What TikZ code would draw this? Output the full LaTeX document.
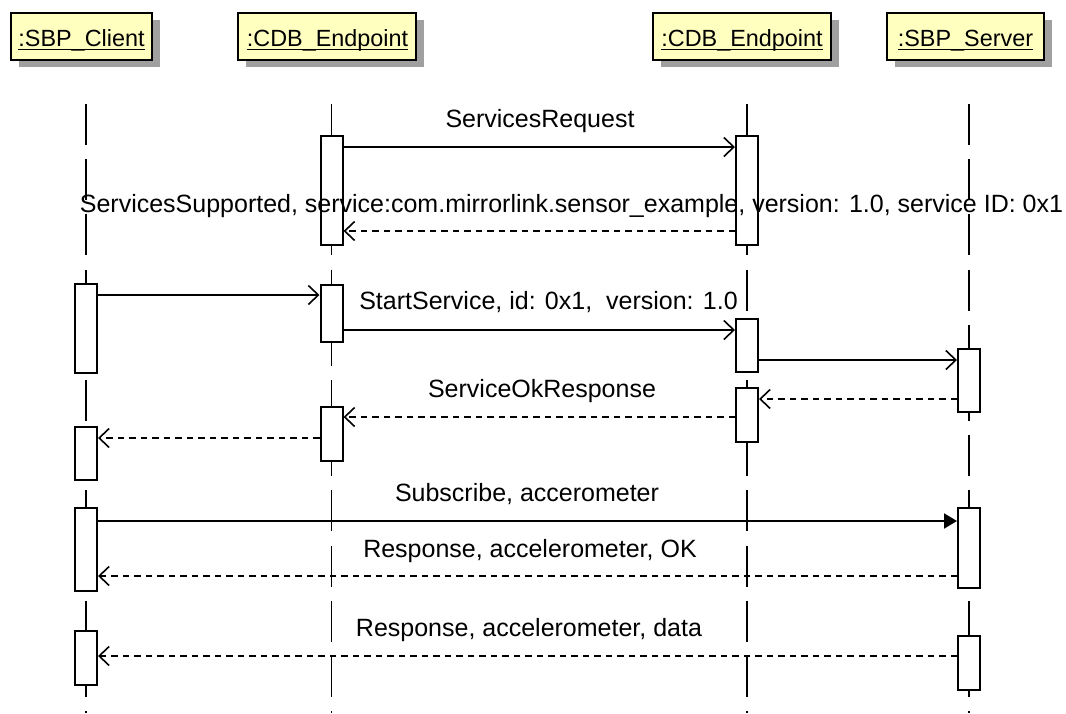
\documentclass[tikz,border=0pt]{standalone}
\usepackage{fontspec}
\setmainfont{Liberation Sans}
\usetikzlibrary{arrows.meta,shadows}
\definecolor{hdrfill}{RGB}{255,255,192}
\definecolor{shadowgray}{RGB}{160,160,160}
\newcommand\actbar[4]{\node[actbox, minimum height={(#4-#3-2)*1pt}] (#1) at (#2,{(#3+#4)/2}) {};}
\begin{document}
\begin{tikzpicture}[x=1pt,y=-1pt,
  hdr/.style={draw=black, line width=2.2pt, fill=hdrfill, minimum height=47pt, inner sep=0pt,
    drop shadow={shadow xshift=8pt, shadow yshift=-7pt, fill=shadowgray, opacity=1}},
  hdrtext/.style={font=\fontsize{23.4}{28}\selectfont, inner sep=0pt, anchor=base},
  lbl/.style={font=\fontsize{25}{30}\selectfont, inner sep=0pt, anchor=base},
  life/.style={line width=1.8pt, dash pattern=on 41pt off 14.2pt},
  actbox/.style={draw=black, line width=2pt, fill=white, minimum width=22pt, inner sep=0pt},
  call/.style={line width=1.8pt, -{Straight Barb[length=10pt,width=19pt,line width=1.6pt]}},
  ret/.style={line width=1.8pt, dash pattern=on 6.5pt off 5pt, -{Straight Barb[length=10pt,width=19pt,line width=1.6pt]}},
  sync/.style={line width=2pt, -{Triangle[length=13pt,width=15pt]}},
  uline/.style={line width=1.6pt}
]
\useasboundingbox (0,0) rectangle (1066,713);

% headers
\node[hdr, minimum width=141pt] (hC) at (81.5,36.5) {};
\node[hdr, minimum width=178pt] (hE1) at (327,36.5) {};
\node[hdr, minimum width=178pt] (hE2) at (742,36.5) {};
\node[hdr, minimum width=157pt] (hS) at (965.5,36.5) {};
\node[hdrtext] (tC) at (81.5,46.5) {:SBP\_Client};
\node[hdrtext] (tE1) at (327.5,46.5) {:CDB\_Endpoint};
\node[hdrtext] (tE2) at (742,46.5) {:CDB\_Endpoint};
\node[hdrtext] (tS) at (965.5,46.5) {:SBP\_Server};
\foreach \t in {tC,tE1,tE2,tS}
  \draw[uline] ([yshift=-3pt]\t.base west) -- ([yshift=-3pt]\t.base east);

% lifelines
\coordinate (lC) at (86,104);   \coordinate (lCb) at (86,713);
\coordinate (lE1) at (331.5,104); \coordinate (lE1b) at (331.5,713);
\coordinate (lE2) at (747,104); \coordinate (lE2b) at (747,713);
\coordinate (lS) at (969,104);  \coordinate (lSb) at (969,713);
\draw[life] (lC) -- (lCb);
\draw[life] (lE1) -- (lE1b);
\draw[life] (lE2) -- (lE2b);
\draw[life] (lS) -- (lSb);

% activation boxes: name, x, top, bottom
\actbar{A}{86}{283}{374}
\actbar{B}{86}{426}{481}
\actbar{C}{86}{507}{592}
\actbar{D}{86}{630}{686}
\actbar{E}{331.5}{135}{246}
\actbar{F}{331.5}{284}{343}
\actbar{G}{331.5}{406}{462}
\actbar{H}{747}{135}{246}
\actbar{I}{747}{318}{373}
\actbar{J}{747}{387}{443}
\actbar{K}{969}{348}{413}
\actbar{L}{969}{507}{589}
\actbar{M}{969}{635}{691}

% message rows
\coordinate (r1) at (0,147);
\coordinate (r2) at (0,231);
\coordinate (r3) at (0,295);
\coordinate (r4) at (0,330);
\coordinate (r5) at (0,360);
\coordinate (r6) at (0,399);
\coordinate (r7) at (0,417);
\coordinate (r8) at (0,438);
\coordinate (r9) at (0,521);
\coordinate (r10) at (0,576);
\coordinate (r11) at (0,656);

\draw[call] (E.east |- r1) -- (H.west |- r1);
\draw[ret]  (H.west |- r2) -- (E.east |- r2);
\draw[call] (A.east |- r3) -- (F.west |- r3);
\draw[call] (F.east |- r4) -- (I.west |- r4);
\draw[call] (I.east |- r5) -- (K.west |- r5);
\draw[ret]  (K.west |- r6) -- (J.east |- r6);
\draw[ret]  (J.west |- r7) -- (G.east |- r7);
\draw[ret]  (G.west |- r8) -- (B.east |- r8);
\draw[sync] (C.east |- r9) -- (L.west |- r9);
\draw[ret]  (L.west |- r10) -- (C.east |- r10);
\draw[ret]  (M.west |- r11) -- (D.east |- r11);

% labels
\node[lbl] (m1) at (540,127) {ServicesRequest};
\node[lbl] (m2) at (571.5,212) {ServicesSupported, service:com.mirrorlink.sensor\_example, version: 1.0, service ID: 0x1};
\node[lbl] (m3) at (548.5,309) {StartService, id: 0x1, \ version: 1.0};
\node[lbl] (m4) at (542,397) {ServiceOkResponse};
\node[lbl] (m5) at (527,501) {Subscribe, accerometer};
\node[lbl] (m6) at (530,557) {Response, accelerometer, OK};
\node[lbl] (m7) at (529,636) {Response, accelerometer, data};
\end{tikzpicture}
\end{document}
